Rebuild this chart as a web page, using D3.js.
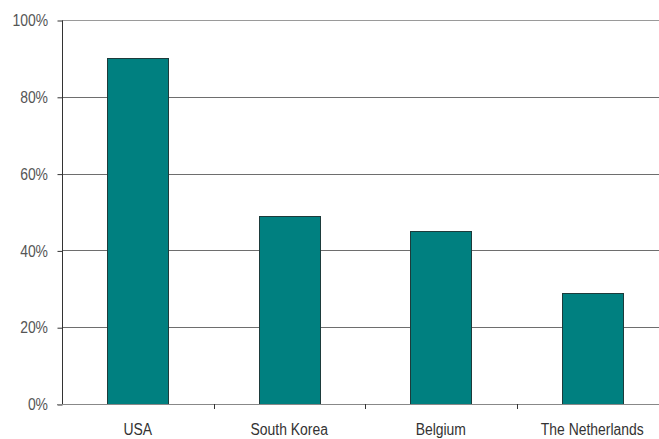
<!DOCTYPE html>
<html>
<head>
<meta charset="utf-8">
<script src="https://cdn.jsdelivr.net/npm/d3@7"></script>
<style>
  html, body { margin: 0; padding: 0; background: #fff; }
  svg { display: block; }
  text { font-family: "Liberation Sans", Arial, sans-serif; }
</style>
</head>
<body>
<svg id="chart" width="659" height="439"></svg>
<script>
// Share by country
const countries = ["USA", "South Korea", "Belgium", "The Netherlands"];
const shares = [0.90, 0.49, 0.45, 0.29];
const yTicks = [0, 0.2, 0.4, 0.6, 0.8, 1.0];

const svg = d3.select("#chart");
const margin = { left: 62, top: 20, right: -9, bottom: 35 };
const W = 659, H = 439;
const narrow = 0.87; // horizontal squeeze for a condensed look
const fontSize = "16px";

const x = d3.scaleBand()
  .domain(countries)
  .range([margin.left, W - margin.right])
  .paddingInner(0.6)
  .paddingOuter(0.3);

const band = d3.scaleBand()
  .domain(countries)
  .range([margin.left, W - margin.right]);

const y = d3.scaleLinear()
  .domain([0, 1])
  .range([H - margin.bottom, margin.top]);

// Horizontal gridlines
svg.append("g")
  .selectAll("line")
  .data(yTicks.filter(d => d > 0))
  .join("line")
  .attr("x1", margin.left)
  .attr("x2", W)
  .attr("y1", d => Math.round(y(d)) + 0.5)
  .attr("y2", d => Math.round(y(d)) + 0.5)
  .attr("stroke", d => d === 1 ? "#9a9a9a" : "#6e6e6e")
  .attr("stroke-width", 1);

// Bars
svg.append("g")
  .selectAll("rect")
  .data(countries)
  .join("rect")
  .attr("x", (d) => Math.round(x(d)) + 0.5)
  .attr("y", (d, i) => Math.round(y(shares[i])) + 0.5)
  .attr("width", Math.round(x.bandwidth()))
  .attr("height", (d, i) => Math.round(y(0)) - Math.round(y(shares[i])))
  .attr("fill", "#008080")
  .attr("stroke", "#1d3b3b")
  .attr("stroke-width", 1);

// Y axis
const yAxis = d3.axisLeft(y)
  .tickValues(yTicks)
  .tickFormat(d3.format(".0%"))
  .tickSize(5)
  .tickPadding(9);

const gy = svg.append("g")
  .attr("transform", `translate(${margin.left + 0.5},0.5)`)
  .call(yAxis);
gy.select(".domain").attr("stroke", "#333").attr("d", `M0,${y(1)}V${y(0)}`);
gy.selectAll(".tick line").attr("stroke", "#333");
gy.selectAll(".tick text")
  .attr("x", 0)
  .attr("transform", `translate(-14.5,0) scale(${narrow},1)`)
  .attr("fill", "#555")
  .style("font-size", fontSize)
  .style("font-family", "\"Liberation Sans\", Arial, sans-serif");

// X axis baseline
svg.append("line")
  .attr("x1", margin.left - 5)
  .attr("x2", W)
  .attr("y1", Math.round(y(0)) + 0.5)
  .attr("y2", Math.round(y(0)) + 0.5)
  .attr("stroke", "#888");

// Category separator ticks
svg.append("g")
  .selectAll("line")
  .data(countries.slice(1))
  .join("line")
  .attr("x1", d => Math.round(band(d)) + 0.5)
  .attr("x2", d => Math.round(band(d)) + 0.5)
  .attr("y1", Math.round(y(0)))
  .attr("y2", Math.round(y(0)) + 5)
  .attr("stroke", "#333");

// Category labels
svg.append("g")
  .selectAll("text")
  .data(countries)
  .join("text")
  .attr("transform", d => `translate(${band(d) + band.bandwidth() / 2},435) scale(${narrow},1)`)
  .attr("text-anchor", "middle")
  .attr("fill", "#333")
  .style("font-size", fontSize)
  .text(d => d);
</script>
</body>
</html>
